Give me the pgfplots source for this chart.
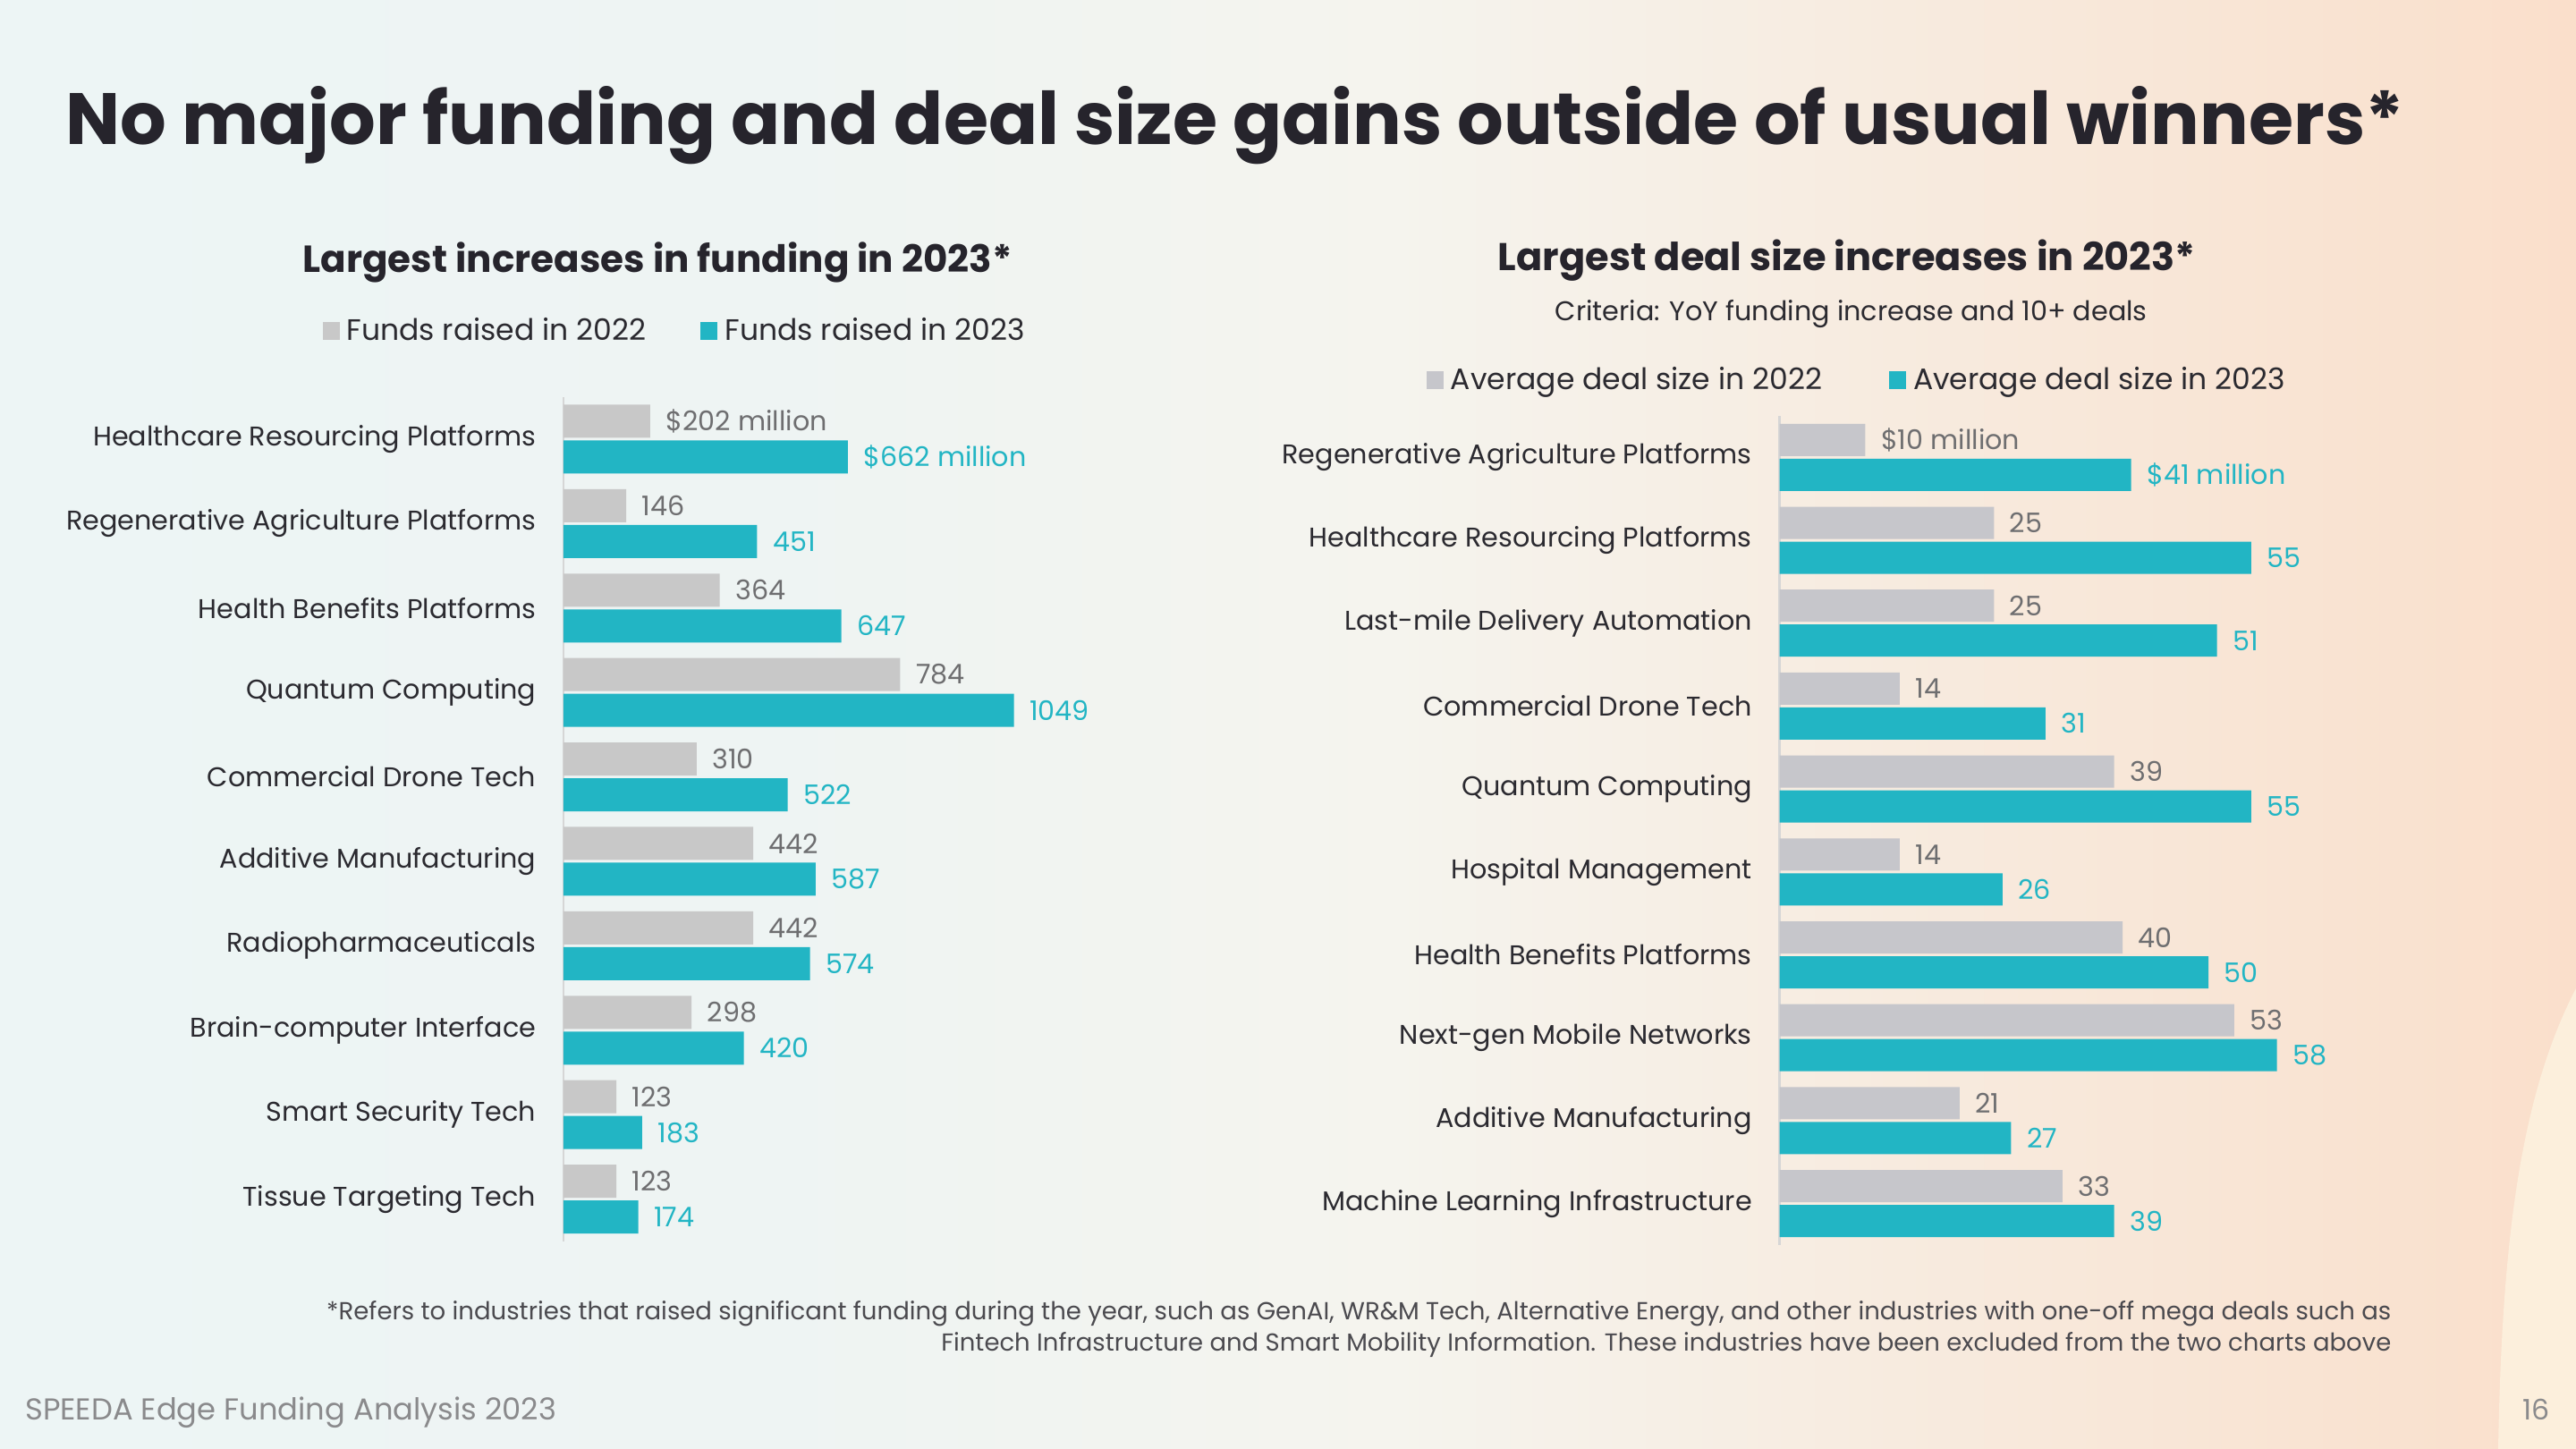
\documentclass[border=0pt]{standalone}
\usepackage{fontspec}
\setmainfont{Poppins}
\usepackage{graphicx}
\usepackage{pgfplots}
\pgfplotsset{compat=1.18}
\definecolor{tealbar}{HTML}{22B5C4}
\definecolor{greybar}{HTML}{C8C8C8}
\definecolor{greybarR}{HTML}{C6C6CB}
\definecolor{vgrey}{HTML}{6E6E70}
\definecolor{dark}{HTML}{26242C}
\definecolor{labdark}{HTML}{2B2A30}
\definecolor{linegrey}{HTML}{D6D6D6}
\definecolor{footgrey}{HTML}{8A8A8C}
\definecolor{bgL}{HTML}{EDF5F5}
\definecolor{bgL2}{HTML}{EEF4F3}
\definecolor{bgM}{HTML}{F5F4EE}
\definecolor{bgR}{HTML}{FADFCB}
\definecolor{cream}{HTML}{FCEFDC}
\pgfdeclarehorizontalshading{bgshade}{100bp}{color(0bp)=(bgL); color(25bp)=(bgL); color(40bp)=(bgL2); color(52bp)=(bgM); color(75bp)=(bgR); color(100bp)=(bgR)}
\newcommand{\fitw}[2]{\resizebox{#1}{!}{#2}}
\begin{document}
\begin{tikzpicture}[x=1cm,y=1cm]
\shade[shading=bgshade] (0,0) rectangle (28.8,16.2);
\fill[cream] (28.8,0) -- (27.93,0) .. controls (27.97,2.2) and (28.15,3.9) .. (28.8,5.15) -- cycle;
% Title
\node[anchor=base west, inner sep=0pt, text=dark] at (0.73,14.58) {\fitw{26.14cm}{\fontsize{24}{28}\selectfont\bfseries No major funding and deal size gains outside of usual winners*}};
% subtitles
\node[anchor=base west, inner sep=0pt, text=dark] at (3.38,13.15) {\fitw{7.93cm}{\fontsize{12}{14}\selectfont\bfseries Largest increases in funding in 2023*}};
\node[anchor=base west, inner sep=0pt, text=dark] at (16.74,13.17) {\fitw{7.80cm}{\fontsize{12}{14}\selectfont\bfseries Largest deal size increases in 2023*}};
\node[anchor=base west, inner sep=0pt, text=labdark] at (17.38,12.61) {\fitw{6.62cm}{\fontsize{8}{10}\selectfont Criteria: YoY funding increase and 10+ deals}};
% footer
\node[anchor=base east, inner sep=0pt, text=labdark!85] at (26.74,1.44) {\fitw{23.08cm}{\fontsize{7.5}{9}\selectfont *Refers to industries that raised significant funding during the year, such as GenAI, WR\&M Tech, Alternative Energy, and other industries with one-off mega deals such as}};
\node[anchor=base east, inner sep=0pt, text=labdark!85] at (26.74,1.09) {\fitw{16.21cm}{\fontsize{7.5}{9}\selectfont Fintech Infrastructure and Smart Mobility Information. These industries have been excluded from the two charts above}};
\node[anchor=base west, inner sep=0pt, text=footgrey] at (0.275,0.32) {\fitw{5.94cm}{\fontsize{9}{11}\selectfont SPEEDA Edge Funding Analysis 2023}};
\node[anchor=base east, inner sep=0pt, text=footgrey] at (28.51,0.32) {\fontsize{9}{11}\selectfont 16};

\pgfplotsset{
  mybars/.style={
    scale only axis, anchor=south west, xbar, clip=false,
    ymin=-9.5, ymax=0.5, xmin=0,
    axis x line=none, axis y line*=left,
    axis line style={-, draw=linegrey, line width=0.75pt},
    ytick={0,-1,-2,-3,-4,-5,-6,-7,-8,-9},
    major tick length=0pt, ytick style={draw=none},
    yticklabel style={font=\fontsize{8.6}{10}\selectfont, text=labdark, inner sep=0pt, xshift=-0.3cm, anchor=east},
    point meta=explicit symbolic,
    nodes near coords, nodes near coords align={horizontal},
    every node near coord/.append style={font=\fontsize{8.6}{10}\selectfont, inner sep=0pt, xshift=0.17cm, anchor=west},
    legend columns=2,
    legend image code/.code={\fill[##1] (0cm,-0.1cm) rectangle (0.19cm,0.1cm);},
  }
}
% Left chart
\begin{axis}[mybars,
  at={(6.30cm,2.322cm)}, width=5.76cm, height=9.44cm, xmax=1200,
  bar width=0.37cm,
  yticklabels={Healthcare Resourcing Platforms, Regenerative Agriculture Platforms, Health Benefits Platforms, Quantum Computing, Commercial Drone Tech, Additive Manufacturing, Radiopharmaceuticals, Brain-computer Interface, Smart Security Tech, Tissue Targeting Tech},
  legend style={at={(-0.469,1.078)}, anchor=west, draw=none, fill=none, inner sep=0pt, font=\fontsize{9.4}{11}\selectfont, text=labdark,
    nodes={inner sep=0pt},
    /tikz/every even column/.append style={column sep=0.61cm},
    /tikz/every odd column/.append style={column sep=0.08cm}},
]
\addplot[color=vgrey, fill=greybar, draw=none, bar shift=0.2cm] coordinates {
(202,0)[\$202 million] (146,-1)[146] (364,-2)[364] (784,-3)[784] (310,-4)[310] (442,-5)[442] (442,-6)[442] (298,-7)[298] (123,-8)[123] (123,-9)[123]};
\addplot[color=tealbar, fill=tealbar, draw=none, bar shift=-0.2cm] coordinates {
(662,0)[\$662 million] (451,-1)[451] (647,-2)[647] (1049,-3)[1049] (522,-4)[522] (587,-5)[587] (574,-6)[574] (420,-7)[420] (183,-8)[183] (174,-9)[174]};
\legend{Funds raised in 2022, Funds raised in 2023}
\end{axis}
% Right chart
\begin{axis}[mybars,
  at={(19.895cm,2.28cm)}, width=6.713cm, height=9.27cm, xmax=70,
  bar width=0.36cm,
  yticklabels={Regenerative Agriculture Platforms, Healthcare Resourcing Platforms, Last-mile Delivery Automation, Commercial Drone Tech, Quantum Computing, Hospital Management, Health Benefits Platforms, Next-gen Mobile Networks, Additive Manufacturing, Machine Learning Infrastructure},
  legend style={at={(-0.589,1.043)}, anchor=west, draw=none, fill=none, inner sep=0pt, font=\fontsize{9.4}{11}\selectfont, text=labdark,
    nodes={inner sep=0pt},
    /tikz/every even column/.append style={column sep=0.75cm},
    /tikz/every odd column/.append style={column sep=0.08cm}},
]
\addplot[color=vgrey, fill=greybarR, draw=none, bar shift=0.195cm] coordinates {
(10,0)[\$10 million] (25,-1)[25] (25,-2)[25] (14,-3)[14] (39,-4)[39] (14,-5)[14] (40,-6)[40] (53,-7)[53] (21,-8)[21] (33,-9)[33]};
\addplot[color=tealbar, fill=tealbar, draw=none, bar shift=-0.195cm] coordinates {
(41,0)[\$41 million] (55,-1)[55] (51,-2)[51] (31,-3)[31] (55,-4)[55] (26,-5)[26] (50,-6)[50] (58,-7)[58] (27,-8)[27] (39,-9)[39]};
\legend{Average deal size in 2022, Average deal size in 2023}
\end{axis}
\end{tikzpicture}
\end{document}
